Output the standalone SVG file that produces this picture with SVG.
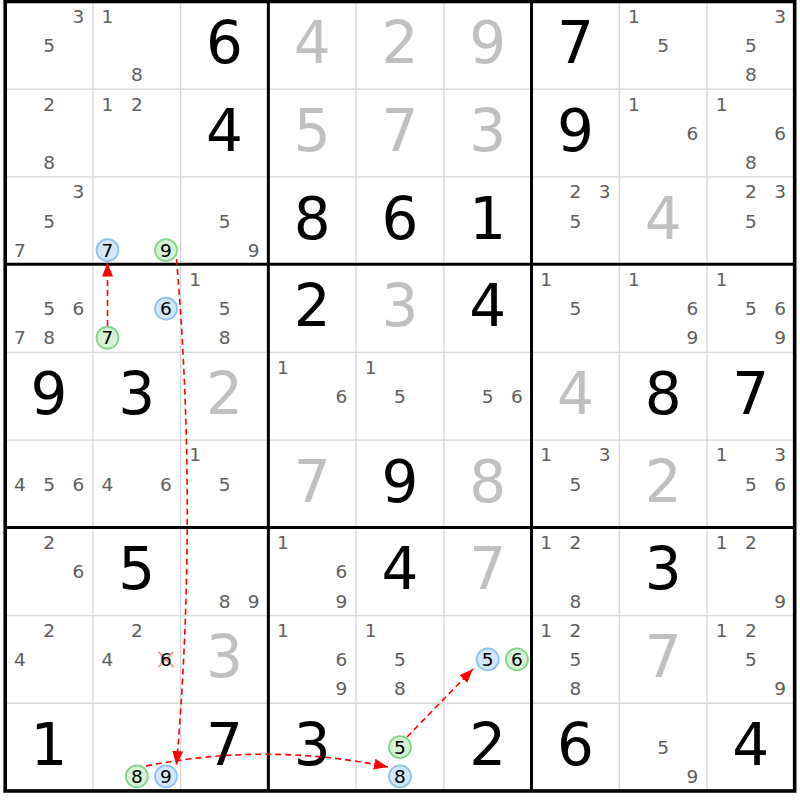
<svg xmlns="http://www.w3.org/2000/svg" width="800" height="800" viewBox="0 0 800 800">
<style>
text{font-family:"DejaVu Sans","Noto Sans",sans-serif;text-anchor:middle}
.c{font-size:18.5px;fill:#5e5e5e}
.k{font-size:18.5px;fill:#000}
.g{font-size:58px;fill:#000}
.s{font-size:58px;fill:#c0c0c0}
.thin{stroke:#d6d6d6;stroke-width:1.3}
.thick{stroke:#000;stroke-width:3}
.hb{fill:#d3e6fa;stroke:#8fc1f2;stroke-width:1.8}
.hg{fill:#d6f2d6;stroke:#84d48e;stroke-width:1.8}
.ln{fill:none;stroke:#ff0000;stroke-width:1.6;stroke-dasharray:6 4}
.x{stroke:#f08a8a;stroke-width:2;opacity:0.8}
</style>
<defs>
<marker id="ah" viewBox="0 0 14 11" refX="14" refY="5.5" markerWidth="14" markerHeight="11" markerUnits="userSpaceOnUse" orient="auto">
<path d="M0,0 L14,5.5 L0,11 z" fill="#ff0000"/>
</marker>
</defs>
<rect x="0" y="0" width="800" height="800" fill="#fff"/>
<g id="grid">
<g class="thin">
<line x1="92.92" y1="1.5" x2="92.92" y2="790.98"/>
<line x1="180.64" y1="1.5" x2="180.64" y2="790.98"/>
<line x1="356.08" y1="1.5" x2="356.08" y2="790.98"/>
<line x1="443.8" y1="1.5" x2="443.8" y2="790.98"/>
<line x1="619.24" y1="1.5" x2="619.24" y2="790.98"/>
<line x1="706.96" y1="1.5" x2="706.96" y2="790.98"/>
<line x1="5.2" y1="89.22" x2="794.68" y2="89.22"/>
<line x1="5.2" y1="176.94" x2="794.68" y2="176.94"/>
<line x1="5.2" y1="352.38" x2="794.68" y2="352.38"/>
<line x1="5.2" y1="440.1" x2="794.68" y2="440.1"/>
<line x1="5.2" y1="615.54" x2="794.68" y2="615.54"/>
<line x1="5.2" y1="703.26" x2="794.68" y2="703.26"/>
</g>
<g class="thick">
<line x1="268.36" y1="1.5" x2="268.36" y2="790.98"/>
<line x1="531.52" y1="1.5" x2="531.52" y2="790.98"/>
<line x1="5.2" y1="264.3" x2="794.68" y2="264.3"/>
<line x1="5.2" y1="527.6" x2="794.68" y2="527.6"/>
</g>
<rect x="5.2" y="1.5" width="789.48" height="789.48" fill="none" stroke="#000" stroke-width="3.6"/>
</g>

<!-- Row 1 -->
<g id="r1c1" transform="translate(5.2,1.5)"><text class="c" x="73.1" y="21.3">3</text><text class="c" x="43.9" y="50.6">5</text></g>
<g id="r1c2" transform="translate(92.92,1.5)"><text class="c" x="14.6" y="21.3">1</text><text class="c" x="43.9" y="79.8">8</text></g>
<g id="r1c3" transform="translate(180.64,1.5)"><text class="g" x="43.86" y="61.6">6</text></g>
<g id="r1c4" transform="translate(268.36,1.5)"><text class="s" x="43.86" y="61.6">4</text></g>
<g id="r1c5" transform="translate(356.08,1.5)"><text class="s" x="43.86" y="61.6">2</text></g>
<g id="r1c6" transform="translate(443.8,1.5)"><text class="s" x="43.86" y="61.6">9</text></g>
<g id="r1c7" transform="translate(531.52,1.5)"><text class="g" x="43.86" y="61.6">7</text></g>
<g id="r1c8" transform="translate(619.24,1.5)"><text class="c" x="14.6" y="21.3">1</text><text class="c" x="43.9" y="50.6">5</text></g>
<g id="r1c9" transform="translate(706.96,1.5)"><text class="c" x="73.1" y="21.3">3</text><text class="c" x="43.9" y="50.6">5</text><text class="c" x="43.9" y="79.8">8</text></g>

<!-- Row 2 -->
<g id="r2c1" transform="translate(5.2,89.22)"><text class="c" x="43.9" y="21.3">2</text><text class="c" x="43.9" y="79.8">8</text></g>
<g id="r2c2" transform="translate(92.92,89.22)"><text class="c" x="14.6" y="21.3">1</text><text class="c" x="43.9" y="21.3">2</text></g>
<g id="r2c3" transform="translate(180.64,89.22)"><text class="g" x="43.86" y="61.6">4</text></g>
<g id="r2c4" transform="translate(268.36,89.22)"><text class="s" x="43.86" y="61.6">5</text></g>
<g id="r2c5" transform="translate(356.08,89.22)"><text class="s" x="43.86" y="61.6">7</text></g>
<g id="r2c6" transform="translate(443.8,89.22)"><text class="s" x="43.86" y="61.6">3</text></g>
<g id="r2c7" transform="translate(531.52,89.22)"><text class="g" x="43.86" y="61.6">9</text></g>
<g id="r2c8" transform="translate(619.24,89.22)"><text class="c" x="14.6" y="21.3">1</text><text class="c" x="73.1" y="50.6">6</text></g>
<g id="r2c9" transform="translate(706.96,89.22)"><text class="c" x="14.6" y="21.3">1</text><text class="c" x="73.1" y="50.6">6</text><text class="c" x="43.9" y="79.8">8</text></g>

<!-- Row 3 -->
<g id="r3c1" transform="translate(5.2,176.94)"><text class="c" x="73.1" y="21.3">3</text><text class="c" x="43.9" y="50.6">5</text><text class="c" x="14.6" y="79.8">7</text></g>
<g id="r3c2" transform="translate(92.92,176.94)"><circle class="hb" cx="14.6" cy="73.1" r="11"/><text class="k" x="14.6" y="79.8">7</text><circle class="hg" cx="73.1" cy="73.1" r="11"/><text class="k" x="73.1" y="79.8">9</text></g>
<g id="r3c3" transform="translate(180.64,176.94)"><text class="c" x="43.9" y="50.6">5</text><text class="c" x="73.1" y="79.8">9</text></g>
<g id="r3c4" transform="translate(268.36,176.94)"><text class="g" x="43.86" y="61.6">8</text></g>
<g id="r3c5" transform="translate(356.08,176.94)"><text class="g" x="43.86" y="61.6">6</text></g>
<g id="r3c6" transform="translate(443.8,176.94)"><text class="g" x="43.86" y="61.6">1</text></g>
<g id="r3c7" transform="translate(531.52,176.94)"><text class="c" x="43.9" y="21.3">2</text><text class="c" x="73.1" y="21.3">3</text><text class="c" x="43.9" y="50.6">5</text></g>
<g id="r3c8" transform="translate(619.24,176.94)"><text class="s" x="43.86" y="61.6">4</text></g>
<g id="r3c9" transform="translate(706.96,176.94)"><text class="c" x="43.9" y="21.3">2</text><text class="c" x="73.1" y="21.3">3</text><text class="c" x="43.9" y="50.6">5</text></g>

<!-- Row 4 -->
<g id="r4c1" transform="translate(5.2,264.66)"><text class="c" x="43.9" y="50.6">5</text><text class="c" x="73.1" y="50.6">6</text><text class="c" x="14.6" y="79.8">7</text><text class="c" x="43.9" y="79.8">8</text></g>
<g id="r4c2" transform="translate(92.92,264.66)"><circle class="hb" cx="73.1" cy="43.9" r="11"/><text class="k" x="73.1" y="50.6">6</text><circle class="hg" cx="14.6" cy="73.1" r="11"/><text class="k" x="14.6" y="79.8">7</text></g>
<g id="r4c3" transform="translate(180.64,264.66)"><text class="c" x="14.6" y="21.3">1</text><text class="c" x="43.9" y="50.6">5</text><text class="c" x="43.9" y="79.8">8</text></g>
<g id="r4c4" transform="translate(268.36,264.66)"><text class="g" x="43.86" y="61.6">2</text></g>
<g id="r4c5" transform="translate(356.08,264.66)"><text class="s" x="43.86" y="61.6">3</text></g>
<g id="r4c6" transform="translate(443.8,264.66)"><text class="g" x="43.86" y="61.6">4</text></g>
<g id="r4c7" transform="translate(531.52,264.66)"><text class="c" x="14.6" y="21.3">1</text><text class="c" x="43.9" y="50.6">5</text></g>
<g id="r4c8" transform="translate(619.24,264.66)"><text class="c" x="14.6" y="21.3">1</text><text class="c" x="73.1" y="50.6">6</text><text class="c" x="73.1" y="79.8">9</text></g>
<g id="r4c9" transform="translate(706.96,264.66)"><text class="c" x="14.6" y="21.3">1</text><text class="c" x="43.9" y="50.6">5</text><text class="c" x="73.1" y="50.6">6</text><text class="c" x="73.1" y="79.8">9</text></g>

<!-- Row 5 -->
<g id="r5c1" transform="translate(5.2,352.38)"><text class="g" x="43.86" y="61.6">9</text></g>
<g id="r5c2" transform="translate(92.92,352.38)"><text class="g" x="43.86" y="61.6">3</text></g>
<g id="r5c3" transform="translate(180.64,352.38)"><text class="s" x="43.86" y="61.6">2</text></g>
<g id="r5c4" transform="translate(268.36,352.38)"><text class="c" x="14.6" y="21.3">1</text><text class="c" x="73.1" y="50.6">6</text></g>
<g id="r5c5" transform="translate(356.08,352.38)"><text class="c" x="14.6" y="21.3">1</text><text class="c" x="43.9" y="50.6">5</text></g>
<g id="r5c6" transform="translate(443.8,352.38)"><text class="c" x="43.9" y="50.6">5</text><text class="c" x="73.1" y="50.6">6</text></g>
<g id="r5c7" transform="translate(531.52,352.38)"><text class="s" x="43.86" y="61.6">4</text></g>
<g id="r5c8" transform="translate(619.24,352.38)"><text class="g" x="43.86" y="61.6">8</text></g>
<g id="r5c9" transform="translate(706.96,352.38)"><text class="g" x="43.86" y="61.6">7</text></g>

<!-- Row 6 -->
<g id="r6c1" transform="translate(5.2,440.1)"><text class="c" x="14.6" y="50.6">4</text><text class="c" x="43.9" y="50.6">5</text><text class="c" x="73.1" y="50.6">6</text></g>
<g id="r6c2" transform="translate(92.92,440.1)"><text class="c" x="14.6" y="50.6">4</text><text class="c" x="73.1" y="50.6">6</text></g>
<g id="r6c3" transform="translate(180.64,440.1)"><text class="c" x="14.6" y="21.3">1</text><text class="c" x="43.9" y="50.6">5</text></g>
<g id="r6c4" transform="translate(268.36,440.1)"><text class="s" x="43.86" y="61.6">7</text></g>
<g id="r6c5" transform="translate(356.08,440.1)"><text class="g" x="43.86" y="61.6">9</text></g>
<g id="r6c6" transform="translate(443.8,440.1)"><text class="s" x="43.86" y="61.6">8</text></g>
<g id="r6c7" transform="translate(531.52,440.1)"><text class="c" x="14.6" y="21.3">1</text><text class="c" x="73.1" y="21.3">3</text><text class="c" x="43.9" y="50.6">5</text></g>
<g id="r6c8" transform="translate(619.24,440.1)"><text class="s" x="43.86" y="61.6">2</text></g>
<g id="r6c9" transform="translate(706.96,440.1)"><text class="c" x="14.6" y="21.3">1</text><text class="c" x="73.1" y="21.3">3</text><text class="c" x="43.9" y="50.6">5</text><text class="c" x="73.1" y="50.6">6</text></g>

<!-- Row 7 -->
<g id="r7c1" transform="translate(5.2,527.82)"><text class="c" x="43.9" y="21.3">2</text><text class="c" x="73.1" y="50.6">6</text></g>
<g id="r7c2" transform="translate(92.92,527.82)"><text class="g" x="43.86" y="61.6">5</text></g>
<g id="r7c3" transform="translate(180.64,527.82)"><text class="c" x="43.9" y="79.8">8</text><text class="c" x="73.1" y="79.8">9</text></g>
<g id="r7c4" transform="translate(268.36,527.82)"><text class="c" x="14.6" y="21.3">1</text><text class="c" x="73.1" y="50.6">6</text><text class="c" x="73.1" y="79.8">9</text></g>
<g id="r7c5" transform="translate(356.08,527.82)"><text class="g" x="43.86" y="61.6">4</text></g>
<g id="r7c6" transform="translate(443.8,527.82)"><text class="s" x="43.86" y="61.6">7</text></g>
<g id="r7c7" transform="translate(531.52,527.82)"><text class="c" x="14.6" y="21.3">1</text><text class="c" x="43.9" y="21.3">2</text><text class="c" x="43.9" y="79.8">8</text></g>
<g id="r7c8" transform="translate(619.24,527.82)"><text class="g" x="43.86" y="61.6">3</text></g>
<g id="r7c9" transform="translate(706.96,527.82)"><text class="c" x="14.6" y="21.3">1</text><text class="c" x="43.9" y="21.3">2</text><text class="c" x="73.1" y="79.8">9</text></g>

<!-- Row 8 -->
<g id="r8c1" transform="translate(5.2,615.54)"><text class="c" x="43.9" y="21.3">2</text><text class="c" x="14.6" y="50.6">4</text></g>
<g id="r8c2" transform="translate(92.92,615.54)"><text class="c" x="43.9" y="21.3">2</text><text class="c" x="14.6" y="50.6">4</text><line class="x" x1="65.5" y1="36.3" x2="80.7" y2="51.5"/><line class="x" x1="65.5" y1="51.5" x2="80.7" y2="36.3"/><text class="k" x="73.1" y="50.6">6</text></g>
<g id="r8c3" transform="translate(180.64,615.54)"><text class="s" x="43.86" y="61.6">3</text></g>
<g id="r8c4" transform="translate(268.36,615.54)"><text class="c" x="14.6" y="21.3">1</text><text class="c" x="73.1" y="50.6">6</text><text class="c" x="73.1" y="79.8">9</text></g>
<g id="r8c5" transform="translate(356.08,615.54)"><text class="c" x="14.6" y="21.3">1</text><text class="c" x="43.9" y="50.6">5</text><text class="c" x="43.9" y="79.8">8</text></g>
<g id="r8c6" transform="translate(443.8,615.54)"><circle class="hb" cx="43.9" cy="43.9" r="11"/><text class="k" x="43.9" y="50.6">5</text><circle class="hg" cx="73.1" cy="43.9" r="11"/><text class="k" x="73.1" y="50.6">6</text></g>
<g id="r8c7" transform="translate(531.52,615.54)"><text class="c" x="14.6" y="21.3">1</text><text class="c" x="43.9" y="21.3">2</text><text class="c" x="43.9" y="50.6">5</text><text class="c" x="43.9" y="79.8">8</text></g>
<g id="r8c8" transform="translate(619.24,615.54)"><text class="s" x="43.86" y="61.6">7</text></g>
<g id="r8c9" transform="translate(706.96,615.54)"><text class="c" x="14.6" y="21.3">1</text><text class="c" x="43.9" y="21.3">2</text><text class="c" x="43.9" y="50.6">5</text><text class="c" x="73.1" y="79.8">9</text></g>

<!-- Row 9 -->
<g id="r9c1" transform="translate(5.2,703.26)"><text class="g" x="43.86" y="61.6">1</text></g>
<g id="r9c2" transform="translate(92.92,703.26)"><circle class="hg" cx="43.9" cy="73.1" r="11"/><text class="k" x="43.9" y="79.8">8</text><circle class="hb" cx="73.1" cy="73.1" r="11"/><text class="k" x="73.1" y="79.8">9</text></g>
<g id="r9c3" transform="translate(180.64,703.26)"><text class="g" x="43.86" y="61.6">7</text></g>
<g id="r9c4" transform="translate(268.36,703.26)"><text class="g" x="43.86" y="61.6">3</text></g>
<g id="r9c5" transform="translate(356.08,703.26)"><circle class="hg" cx="43.9" cy="43.9" r="11"/><text class="k" x="43.9" y="50.6">5</text><circle class="hb" cx="43.9" cy="73.1" r="11"/><text class="k" x="43.9" y="79.8">8</text></g>
<g id="r9c6" transform="translate(443.8,703.26)"><text class="g" x="43.86" y="61.6">2</text></g>
<g id="r9c7" transform="translate(531.52,703.26)"><text class="g" x="43.86" y="61.6">6</text></g>
<g id="r9c8" transform="translate(619.24,703.26)"><text class="c" x="43.9" y="50.6">5</text><text class="c" x="73.1" y="79.8">9</text></g>
<g id="r9c9" transform="translate(706.96,703.26)"><text class="g" x="43.86" y="61.6">4</text></g>

<g id="connectors">
<path class="ln" d="M107.5,326 L107.5,262.5" marker-end="url(#ah)"/>
<path class="ln" d="M176.5,259 Q198,512 176.5,765" marker-end="url(#ah)"/>
<path class="ln" d="M146,766 Q267,742 388,767" marker-end="url(#ah)"/>
<path class="ln" d="M407,737 L473,669" marker-end="url(#ah)"/>
</g>
</svg>
